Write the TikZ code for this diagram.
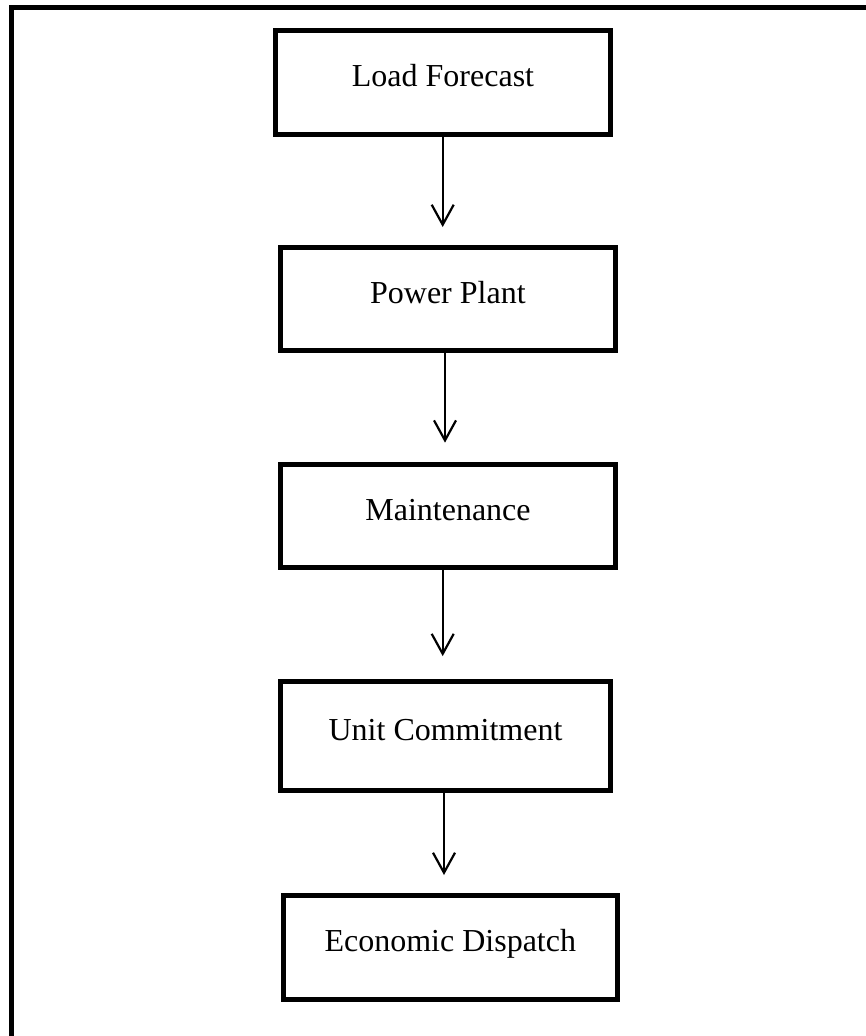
\documentclass[tikz,border=0pt]{standalone}
\usepackage{fontspec}
\setmainfont{Liberation Serif}
\usetikzlibrary{arrows.meta}
\begin{document}
\begin{tikzpicture}[x=1pt,y=-1pt,
  stagebox/.style={draw=black, line width=5pt, rectangle, inner sep=0pt,
    font=\fontsize{32}{38}\selectfont, text height=22pt, text depth=13.4pt},
  flowarrow/.style={draw=black, line width=2.2pt,
    -{Straight Barb[length=20pt,width=22pt]}}]
\useasboundingbox (0,0) rectangle (866,1036);
\fill[white] (0,0) rectangle (866,1036);
% outer frame (right and bottom sides fall outside the picture)
\draw[line width=5pt, line join=miter] (866,7.5) -- (11.5,7.5) -- (11.5,1036);
% stages
\node[stagebox, minimum width=335pt, minimum height=104pt] (b1) at (443,82.5) {Load Forecast};
\node[stagebox, minimum width=334.7pt, minimum height=103pt] (b2) at (447.9,299) {Power Plant};
\node[stagebox, minimum width=334.4pt, minimum height=103.3pt] (b3) at (448,515.8) {Maintenance};
\node[stagebox, minimum width=329.4pt, minimum height=108.8pt] (b4) at (445.5,736) {Unit Commitment};
\node[stagebox, minimum width=334.3pt, minimum height=104pt] (b5) at (450.3,947.5) {Economic Dispatch};
% arrow columns
\coordinate (c1) at (442.7,0);
\coordinate (c2) at (445,0);
\coordinate (c3) at (442.7,0);
\coordinate (c4) at (444,0);
\draw[flowarrow, shorten >=18pt] (b1.south -| c1) -- (b2.north -| c1);
\draw[flowarrow, shorten >=19pt] (b2.south -| c2) -- (b3.north -| c2);
\draw[flowarrow, shorten >=23pt] (b3.south -| c3) -- (b4.north -| c3);
\draw[flowarrow, shorten >=18pt] (b4.south -| c4) -- (b5.north -| c4);
\end{tikzpicture}
\end{document}
